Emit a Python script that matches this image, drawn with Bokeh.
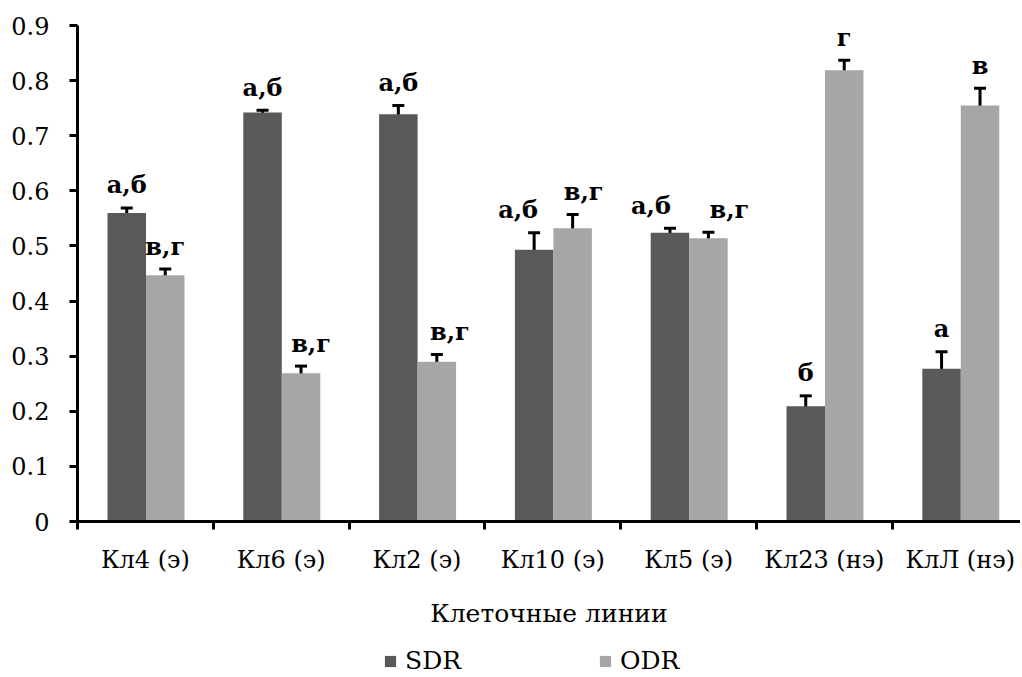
from bokeh.plotting import figure
from bokeh.models import ColumnDataSource, Whisker, TeeHead, FixedTicker, Legend, LegendItem, Range1d
from bokeh.layouts import column
from bokeh.embed import file_html
from bokeh.resources import INLINE
from bokeh.core.properties import value

categories = ["Кл4 (э)", "Кл6 (э)", "Кл2 (э)", "Кл10 (э)", "Кл5 (э)", "Кл23 (нэ)", "КлЛ (нэ)"]
sdr = [0.560, 0.742, 0.739, 0.493, 0.524, 0.209, 0.277]
sdr_err = [0.009, 0.004, 0.016, 0.031, 0.008, 0.019, 0.031]
odr = [0.447, 0.269, 0.290, 0.532, 0.514, 0.819, 0.755]
odr_err = [0.011, 0.013, 0.013, 0.025, 0.011, 0.018, 0.031]
sdr_labels = ["а,б", "а,б", "а,б", "а,б", "а,б", "б", "а"]
odr_labels = ["в,г", "в,г", "в,г", "в,г", "в,г", "г", "в"]
y_ticks = [0, 0.1, 0.2, 0.3, 0.4, 0.5, 0.6, 0.7, 0.8, 0.9]
y_tick_labels = ["0", "0.1", "0.2", "0.3", "0.4", "0.5", "0.6", "0.7", "0.8", "0.9"]
series_names = ["SDR", "ODR"]

# layout parameters (fractions of a category width / pixel nudges)
SDR_OFF = 0.3627
ODR_OFF = 0.646
BAR_W = 0.2835
sdr_nudge = [0, 0, 0, -16, -19, 0, 0]
odr_nudge = [0, 10, 13, 11, 21, 0, 0]

FONT = "DejaVu Serif"
SDR_COLOR = "#595959"
ODR_COLOR = "#a6a6a6"

n = len(categories)
idx = list(range(n))
src = ColumnDataSource(dict(
    x_sdr=[i + SDR_OFF for i in idx],
    x_odr=[i + ODR_OFF for i in idx],
    sdr=sdr, odr=odr,
    sdr_hi=[v + e for v, e in zip(sdr, sdr_err)],
    sdr_lo=[v - e for v, e in zip(sdr, sdr_err)],
    odr_hi=[v + e for v, e in zip(odr, odr_err)],
    odr_lo=[v - e for v, e in zip(odr, odr_err)],
    sdr_lab=sdr_labels, odr_lab=odr_labels,
    sdr_nudge=sdr_nudge, odr_nudge=odr_nudge,
))

W, H1, H2 = 1020, 637, 38
LEFT, TOP, BOTTOM = 77, 25, 521
x_end = (W - LEFT) / 135.8
p = figure(width=W, height=H1, output_backend="svg", toolbar_location=None,
           x_range=Range1d(0, x_end), y_range=Range1d(0, 0.9),
           min_border_left=LEFT, min_border_right=0, min_border_top=TOP, min_border_bottom=H1 - BOTTOM)
p.outline_line_color = None
p.xgrid.visible = False
p.ygrid.visible = False
p.background_fill_color = "white"

r_sdr = p.vbar(x="x_sdr", top="sdr", width=BAR_W, source=src, fill_color=SDR_COLOR, line_color=None)
r_odr = p.vbar(x="x_odr", top="odr", width=BAR_W, source=src, fill_color=ODR_COLOR, line_color=None)

for base, up, lo in (("x_sdr", "sdr_hi", "sdr_lo"), ("x_odr", "odr_hi", "odr_lo")):
    w = Whisker(base=base, upper=up, lower=lo, source=src, line_width=3, line_color="black",
                upper_head=TeeHead(size=12, line_width=3, line_color="black"),
                lower_head=TeeHead(size=12, line_width=3, line_color="black"))
    p.add_layout(w)

for xcol, ycol, tcol, ncol in (("x_sdr", "sdr_hi", "sdr_lab", "sdr_nudge"), ("x_odr", "odr_hi", "odr_lab", "odr_nudge")):
    p.text(x=xcol, y=ycol, text=tcol, source=src, x_offset=ncol, y_offset=-23,
           text_align="center", text_baseline="alphabetic",
           text_font=value(FONT), text_font_style="bold", text_font_size="24px", text_color="black")

# x axis
xa = p.xaxis[0]
xa.ticker = FixedTicker(ticks=[i + 0.5 for i in idx], minor_ticks=list(range(n + 1)))
xa.major_label_overrides = {i + 0.5: c for i, c in zip(idx, categories)}
xa.major_tick_line_color = None
xa.major_tick_out = 0
xa.major_tick_in = 0
xa.minor_tick_out = 8
xa.minor_tick_in = 0
xa.minor_tick_line_width = 3
xa.minor_tick_line_color = "black"
xa.axis_line_width = 3
xa.axis_line_color = "black"
xa.major_label_standoff = 16
xa.major_label_text_font = FONT
xa.major_label_text_font_size = "24px"
xa.major_label_text_color = "black"
xa.axis_label = "Клеточные линии"
xa.axis_label_text_font = FONT
xa.axis_label_text_font_size = "25px"
xa.axis_label_text_font_style = "normal"
xa.axis_label_text_color = "black"
xa.axis_label_standoff = 22

# y axis
ya = p.yaxis[0]
ya.ticker = FixedTicker(ticks=y_ticks, minor_ticks=[])
ya.major_label_overrides = {t: l for t, l in zip(y_ticks, y_tick_labels)}
ya.major_tick_out = 8
ya.major_tick_in = 0
ya.major_tick_line_width = 3
ya.major_tick_line_color = "black"
ya.minor_tick_line_color = None
ya.axis_line_width = 3
ya.axis_line_color = "black"
ya.major_label_standoff = 20
ya.major_label_text_font = FONT
ya.major_label_text_font_size = "24px"
ya.major_label_text_color = "black"

# legend strip (its own small figure; glyphs there fall outside the view)
p2 = figure(width=W, height=H2, output_backend="svg", toolbar_location=None,
            x_axis_location=None, y_axis_location=None,
            x_range=Range1d(0, x_end), y_range=Range1d(5, 6),
            min_border=0)
p2.outline_line_color = None
p2.grid.visible = False
l_sdr = p2.vbar(x="x_sdr", top="sdr", width=BAR_W, source=src, fill_color=SDR_COLOR, line_color=None)
l_odr = p2.vbar(x="x_odr", top="odr", width=BAR_W, source=src, fill_color=ODR_COLOR, line_color=None)
legend = Legend(items=[LegendItem(label=series_names[0], renderers=[l_sdr]),
                       LegendItem(label=series_names[1], renderers=[l_odr])],
                orientation="horizontal", location=(306, 0),
                glyph_width=14, glyph_height=14, label_standoff=8, label_width=193,
                spacing=0, padding=0, margin=0, border_line_color=None, background_fill_alpha=0,
                label_text_font=FONT, label_text_font_size="25px", label_text_color="black")
p2.add_layout(legend, "center")

layout = column(p, p2, spacing=0)
open("out.html", "w").write(file_html(layout, INLINE))
